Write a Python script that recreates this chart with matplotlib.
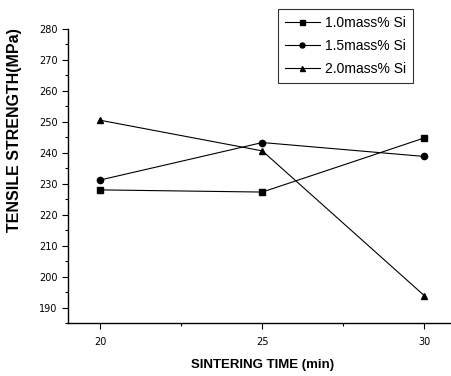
import matplotlib
matplotlib.use("Agg")
import matplotlib.pyplot as plt
from matplotlib.ticker import MultipleLocator

times = [20, 25, 30]
si_10 = [228, 227.3, 244.8]
si_15 = [231.2, 243.3, 238.8]
si_20 = [250.5, 240.6, 193.8]
labels = ["1.0mass% Si", "1.5mass% Si", "2.0mass% Si"]
markers = ["s", "o", "^"]

fig = plt.figure(figsize=(4.52, 3.76), dpi=100)
ax = fig.add_axes([0.150, 0.141, 0.85, 0.782])

for vals, lab, m in zip([si_10, si_15, si_20], labels, markers):
    ax.plot(times, vals, color="black", lw=0.8, marker=m, markersize=4.5, label=lab)

ax.set_xlim(19, 30.85)
ax.set_ylim(185, 280)
ax.xaxis.set_major_locator(MultipleLocator(5))
ax.xaxis.set_minor_locator(MultipleLocator(2.5))
ax.yaxis.set_major_locator(MultipleLocator(10))
ax.yaxis.set_minor_locator(MultipleLocator(5))
ax.tick_params(which="both", direction="out", width=0.8, labelsize=7, color="black")
ax.tick_params(which="major", length=4)
ax.tick_params(which="minor", length=2.5)
ax.tick_params(axis="x", which="major", pad=6)
for lbl in ax.get_xticklabels() + ax.get_yticklabels():
    lbl.set_family(["Liberation Sans Narrow", "DejaVu Sans"])
for s in ["top", "right"]:
    ax.spines[s].set_visible(False)
for s in ["left", "bottom"]:
    ax.spines[s].set_linewidth(1.0)

ax.set_xlabel("SINTERING TIME (min)", fontsize=9.5, fontweight="bold",
              family="Liberation Sans")
ax.xaxis.set_label_coords(0.508, -0.122)
ax.set_ylabel("TENSILE STRENGTH(MPa)", fontsize=11.5, fontweight="bold",
              family="Liberation Sans")
ax.yaxis.set_label_coords(-0.12, 0.655)

leg = fig.legend(loc="upper left", bbox_to_anchor=(0.615, 0.976), frameon=True,
                 fancybox=False, edgecolor="black",
                 handlelength=2.5, handletextpad=0.4, borderpad=0.5,
                 borderaxespad=0, labelspacing=0.65, markerscale=0.8,
                 prop={"family": "Liberation Sans", "size": 10})
leg.get_frame().set_linewidth(0.8)

fig.savefig("out.png", dpi=100)
